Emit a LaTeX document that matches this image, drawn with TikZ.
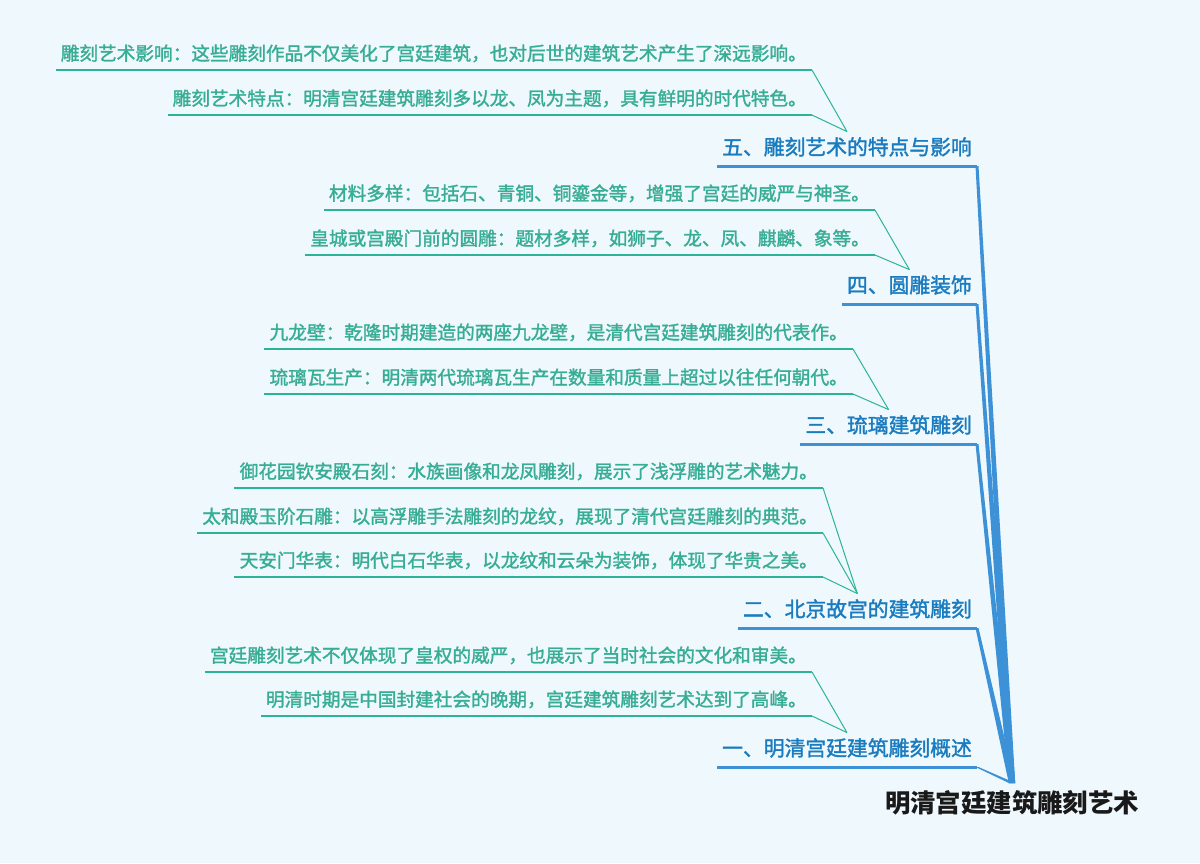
\documentclass[tikz,border=0pt]{standalone}
\usepackage{fontspec}
\newfontfamily\cjk[FakeBold=1.6]{Noto Sans CJK SC}
\newfontfamily\cjkroot{Noto Sans CJK SC}
\definecolor{bg}{HTML}{EEF8FD}
\definecolor{leaftext}{HTML}{38AD95}
\definecolor{leafline}{HTML}{2DB496}
\definecolor{branchtext}{HTML}{1A7BBF}
\definecolor{branchline}{HTML}{3C91D7}
\begin{document}
\begin{tikzpicture}[x=1pt,y=-1pt,
  leaf/.style={inner xsep=5pt, inner ysep=0pt, text height=16pt, text depth=9.5pt,
    anchor=south east, text=leaftext, font=\cjk\fontsize{18.65}{20}\selectfont},
  branch/.style={inner xsep=5pt, inner ysep=0pt, text height=23pt, text depth=11pt,
    anchor=south east, text=branchtext, font=\cjk\fontsize{20.8}{22}\selectfont},
  leafrule/.style={draw=leafline, line width=2.8pt},
  branchrule/.style={draw=branchline, line width=3pt},
  leaflink/.style={draw=leafline, line width=1pt},
  rootlink/.style={fill=branchline},
]
\fill[bg] (0,0) rectangle (1200,863);
\useasboundingbox (0,0) rectangle (1200,863);

% root
\node[font=\cjkroot\bfseries\fontsize{25.4}{28}\selectfont, anchor=base, text=black!90, inner sep=0pt] (root) at (1012,812) {明清宫廷建筑雕刻艺术};
\coordinate (hub) at (1012,783);

% branches
\node[branch] (b5) at (977,166) {五、雕刻艺术的特点与影响};
\node[branch] (b4) at (977,304) {四、圆雕装饰};
\node[branch] (b3) at (977,444) {三、琉璃建筑雕刻};
\node[branch] (b2) at (977,628) {二、北京故宫的建筑雕刻};
\node[branch] (b1) at (977,767) {一、明清宫廷建筑雕刻概述};

% leaves
\node[leaf] (l51) at (812,70) {雕刻艺术影响：这些雕刻作品不仅美化了宫廷建筑，也对后世的建筑艺术产生了深远影响。};
\node[leaf] (l52) at (812,115) {雕刻艺术特点：明清宫廷建筑雕刻多以龙、凤为主题，具有鲜明的时代特色。};
\node[leaf] (l41) at (875,210) {材料多样：包括石、青铜、铜鎏金等，增强了宫廷的威严与神圣。};
\node[leaf] (l42) at (875,255) {皇城或宫殿门前的圆雕：题材多样，如狮子、龙、凤、麒麟、象等。};
\node[leaf] (l31) at (853,349) {九龙壁：乾隆时期建造的两座九龙壁，是清代宫廷建筑雕刻的代表作。};
\node[leaf] (l32) at (853,394) {琉璃瓦生产：明清两代琉璃瓦生产在数量和质量上超过以往任何朝代。};
\node[leaf] (l21) at (823,488) {御花园钦安殿石刻：水族画像和龙凤雕刻，展示了浅浮雕的艺术魅力。};
\node[leaf] (l22) at (823,533) {太和殿玉阶石雕：以高浮雕手法雕刻的龙纹，展现了清代宫廷雕刻的典范。};
\node[leaf] (l23) at (823,577) {天安门华表：明代白石华表，以龙纹和云朵为装饰，体现了华贵之美。};
\node[leaf] (l11) at (812,672) {宫廷雕刻艺术不仅体现了皇权的威严，也展示了当时社会的文化和审美。};
\node[leaf] (l12) at (812,716) {明清时期是中国封建社会的晚期，宫廷建筑雕刻艺术达到了高峰。};

% underlines
\foreach \n in {l51,l52,l41,l42,l31,l32,l21,l22,l23,l11,l12}
  \draw[leafrule] (\n.south west) -- (\n.south east);
\foreach \n in {b5,b4,b3,b2,b1}
  \draw[branchrule] (\n.south west) -- (\n.south east);

% leaf links
\foreach \l/\b in {l51/b5,l52/b5,l41/b4,l42/b4,l31/b3,l32/b3,l21/b2,l22/b2,l23/b2,l11/b1,l12/b1}
  \draw[leaflink] (\l.south east) -- (\b.north);

% branch to root links (tapered)
\foreach \b in {b5,b4,b3,b2,b1}
  \fill[rootlink] ([xshift=-1.5pt]\b.south east) -- ([xshift=1.5pt]\b.south east)
     -- ([xshift=3.2pt]hub) -- ([xshift=-3.2pt]hub) -- cycle;
\end{tikzpicture}
\end{document}
